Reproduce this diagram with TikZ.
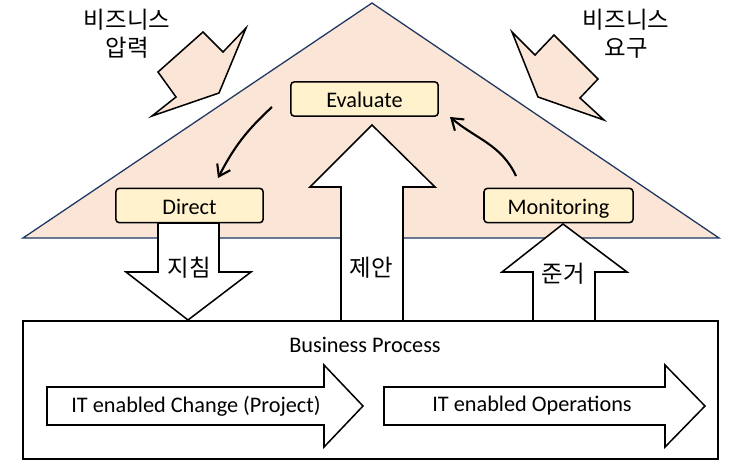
\documentclass[tikz,border=0pt]{standalone}
\usepackage{fontspec}
\setmainfont{Carlito}
\newfontfamily\krfont{Noto Sans CJK KR}
\usetikzlibrary{arrows.meta, positioning}
\definecolor{peach}{HTML}{FBE5D6}
\definecolor{cream}{HTML}{FFF2CC}
\definecolor{navy}{HTML}{203864}
\tikzset{
  govbox/.style={draw, rounded corners=3pt, fill=cream, line width=1.3pt,
    minimum width=4.42cm, minimum height=1.03cm, text height=17pt, text depth=2pt,
    font=\fontsize{19}{22}\selectfont},
  blockarrow/.style={draw, fill=white, line width=1.3pt, line join=miter},
  forcearrow/.style={draw, fill=peach, line width=1.3pt, line join=miter},
  flowarrow/.style={-{Straight Barb[length=3.2mm,width=4.4mm,line width=1.8pt]}, line width=1.8pt},
  krlabel/.style={font=\krfont\fontsize{20}{24}\selectfont, align=center},
  enlabel/.style={font=\fontsize{19}{22}\selectfont}
}

\begin{document}
\begin{tikzpicture}[x=0.03cm, y=0.03cm]
  \useasboundingbox (0,0) rectangle (735,-470);
  % governance triangle
  \draw[fill=peach, draw=navy, line width=1.1pt] (23,-238) -- (372,-3) -- (719,-238) -- cycle;
  % outside forces
  \draw[forcearrow] (203,-32) -- (223,-52) -- (246,-28) -- (219,-93) -- (152,-116) -- (176,-97) -- (158,-72) -- cycle;
  \draw[forcearrow] (512,-32) -- (535,-55) -- (554,-35) -- (598,-79) -- (580,-98) -- (604,-120) -- (538,-97) -- cycle;
  \node[krlabel] (pressure) at (127,-34) {비즈니스\\압력};
  \node[krlabel] (needs) at (626,-34) {비즈니스\\요구};
  % block arrows
  \draw[blockarrow] (158,-223) -- (219,-223) -- (219,-272) -- (251,-272) -- (188,-320) -- (126,-272) -- (158,-272) -- cycle;
  \draw[blockarrow] (341,-321) -- (403,-321) -- (403,-187) -- (435,-187) -- (372,-125) -- (310,-187) -- (341,-187) -- cycle;
  \draw[blockarrow] (533,-321) -- (595,-321) -- (595,-272) -- (627,-272) -- (563,-224) -- (502,-272) -- (533,-272) -- cycle;
  \node[krlabel] (guide) at (189,-268) {지침};
  \node[krlabel] (propose) at (371,-268) {제안};
  \node[krlabel] (comply) at (563,-274) {준거};
  % EDM boxes
  \node[govbox] (evaluate) at (364.5,-99) {Evaluate};
  \node[govbox] (direct) at (189.5,-205.5) {Direct};
  \node[govbox, minimum width=4.47cm] (monitor) at (558.5,-205.5) {Monitoring};
  \coordinate (e1) at (272,-107);
  \coordinate (d1) at (218,-178);
  \coordinate (m1) at (516,-176);
  \coordinate (e2) at (450,-117);
  \draw[flowarrow] (e1) to[bend right=10] (d1);
  \draw[flowarrow] (m1) to[out=115, in=-40] (e2);
  % business process
  \draw[line width=1.3pt] (23,-321) rectangle (718,-459);
  \node[enlabel] (process) at (365,-345) {Business Process};
  \draw[blockarrow] (47,-387) -- (324,-387) -- (324,-365) -- (363,-406) -- (324,-447) -- (324,-425) -- (47,-425) -- cycle;
  \draw[blockarrow] (384,-387) -- (665,-387) -- (665,-365) -- (705,-406) -- (665,-447) -- (665,-425) -- (384,-425) -- cycle;
  \node[enlabel] (change) at (196,-406) {IT enabled Change (Project)};
  \node[enlabel] (operate) at (532,-406) {IT enabled Operations};
\end{tikzpicture}
\end{document}
